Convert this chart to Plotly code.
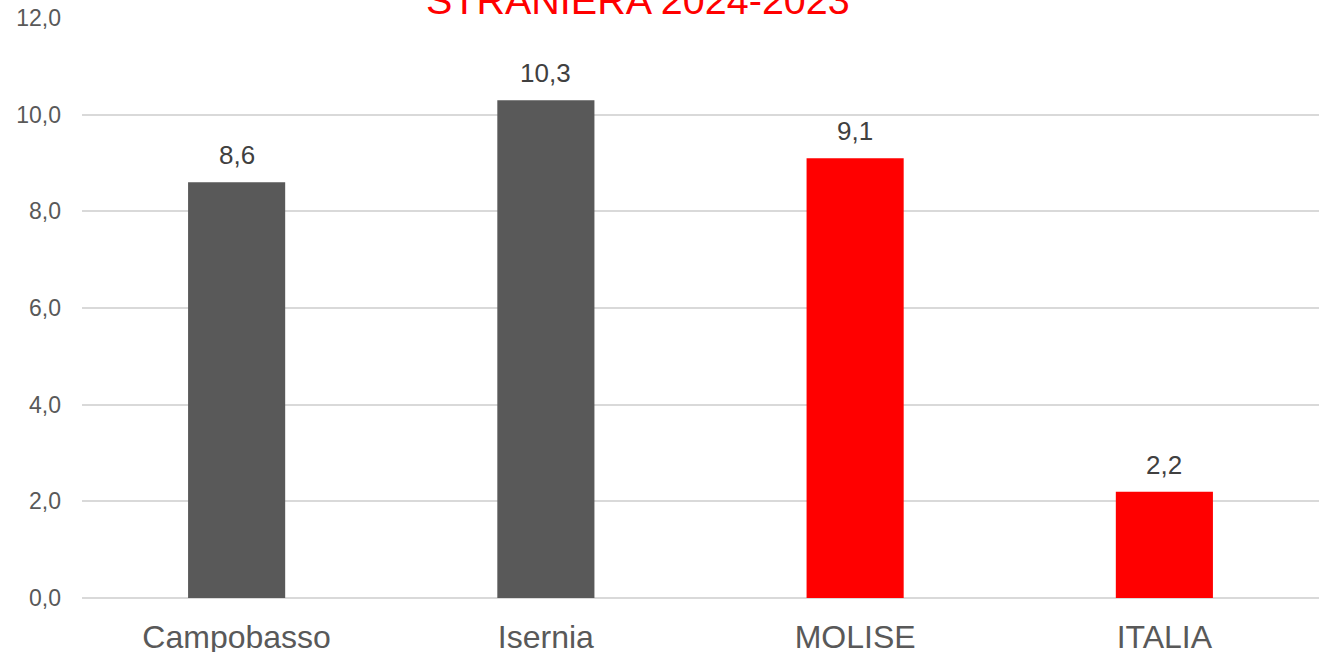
import plotly.graph_objects as go

categories = ["Campobasso", "Isernia", "MOLISE", "ITALIA"]
values = [8.6, 10.3, 9.1, 2.2]
bar_colors = ["#595959", "#595959", "#FF0000", "#FF0000"]
title_text = "STRANIERA 2024-2023"
y_ticks = [0, 2, 4, 6, 8, 10, 12]

FONT = "Arial, Liberation Sans, sans-serif"

fig = go.Figure()
fig.add_trace(go.Bar(
    x=categories, y=values, marker_color=bar_colors, width=0.314,
    marker_line_width=0, hoverinfo="skip",
))

for c, v in zip(categories, values):
    fig.add_annotation(
        x=c, y=v, xref="x", yref="y", text=f"{v:.1f}".replace(".", ","),
        showarrow=False, yanchor="bottom", yshift=10,
        font=dict(family=FONT, size=26, color="#404040"),
    )

fig.add_annotation(
    x=(638 - 82) / 1237, xref="paper", y=1.031, yref="paper", text=title_text,
    showarrow=False, xanchor="center", yanchor="middle",
    font=dict(family=FONT, size=39.5, color="#FF0000"),
)

fig.update_layout(
    width=1329, height=652,
    margin=dict(l=82, r=10, t=18, b=54, autoexpand=False),
    plot_bgcolor="white", paper_bgcolor="white",
    separators=",.",
    showlegend=False,
    xaxis=dict(
        range=[-0.5, 3.5], showgrid=False, showline=False, zeroline=False,
        tickfont=dict(family=FONT, size=32, color="#595959"),
        ticks="", ticklabelstandoff=17, automargin=False,
    ),
    yaxis=dict(
        range=[0, 12], tickvals=y_ticks, tickformat=".1f",
        showgrid=True, gridcolor="#D9D9D9", gridwidth=1.5,
        zeroline=True, zerolinecolor="#D9D9D9", zerolinewidth=1.5,
        showline=False, ticks="", ticklabelstandoff=20, automargin=False,
        tickfont=dict(family=FONT, size=23, color="#595959"),
    ),
)

fig.write_html(
    "out.html",
    config={"displayModeBar": False},
    post_script="document.body.style.margin='0';document.body.style.overflow='hidden';",
)
